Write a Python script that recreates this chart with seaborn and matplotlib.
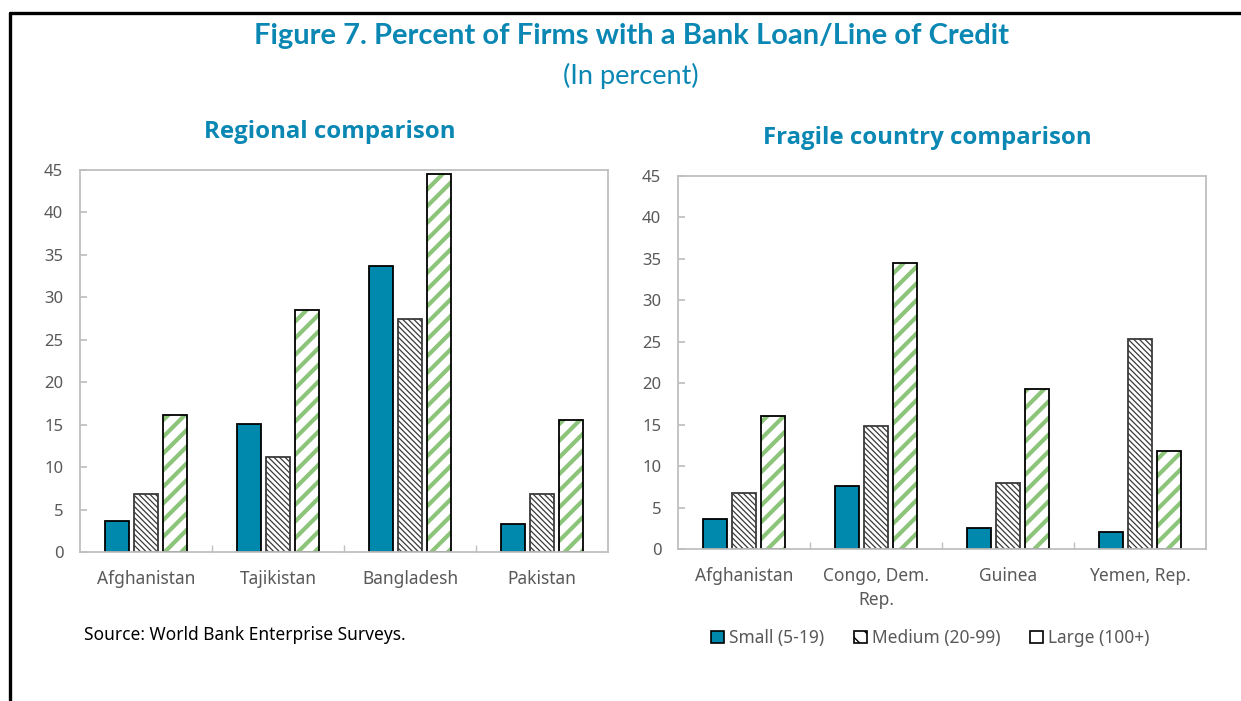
import matplotlib
matplotlib.use("Agg")
import matplotlib.pyplot as plt
from matplotlib.patches import Rectangle, Patch
from matplotlib.lines import Line2D
import seaborn as sns
import pandas as pd

# Data (percent of firms with a bank loan / line of credit)
sizes = ["Small (5-19)", "Medium (20-99)", "Large (100+)"]

regional_countries = ["Afghanistan", "Tajikistan", "Bangladesh", "Pakistan"]
regional_small = [3.6, 15.1, 33.7, 3.3]
regional_medium = [6.8, 11.2, 27.4, 6.8]
regional_large = [16.1, 28.5, 44.5, 15.5]

fragile_countries = ["Afghanistan", "Congo, Dem.\nRep.", "Guinea", "Yemen, Rep."]
fragile_small = [3.6, 7.6, 2.5, 2.0]
fragile_medium = [6.8, 14.8, 8.0, 25.3]
fragile_large = [16.1, 34.5, 19.3, 11.8]

yticks = [0, 5, 10, 15, 20, 25, 30, 35, 40, 45]

TEAL = "#0a87b3"
SMALL_C = "#0088ad"
HATCH_GREY = "#3a3a3a"
GREEN = "#8cc47a"
GRID_GREY = "#bfbfbf"
TEXT_GREY = "#595959"
MEDIUM_HATCH = "\\\\\\\\\\\\"
LARGE_HATCH = "//"

sns.set_theme(style="white")
plt.rcParams["font.family"] = ["Noto Sans", "DejaVu Sans"]
plt.rcParams["hatch.linewidth"] = 1.0


def to_frame(countries, small, medium, large):
    rows = []
    for series, vals in zip(sizes, [small, medium, large]):
        for c, v in zip(countries, vals):
            rows.append({"country": c, "size": series, "value": v})
    return pd.DataFrame(rows)


def style_bars(ax):
    small_c, medium_c, large_c = ax.containers[:3]
    for p in small_c:
        p.set_facecolor(SMALL_C)
        p.set_edgecolor("black")
        p.set_linewidth(1.3)
    for p in medium_c:
        p.set_facecolor("white")
        p.set_edgecolor(HATCH_GREY)
        p.set_hatch(MEDIUM_HATCH)
        p.set_linewidth(1.3)
        if hasattr(p, "set_hatch_linewidth"):
            p.set_hatch_linewidth(0.9)
    for p in large_c:
        p.set_facecolor("white")
        p.set_edgecolor(GREEN)
        p.set_hatch(LARGE_HATCH)
        p.set_linewidth(0)
        if hasattr(p, "set_hatch_linewidth"):
            p.set_hatch_linewidth(3.0)
        # black outline on top of the green striping
        ax.add_patch(Rectangle((p.get_x(), p.get_y()), p.get_width(), p.get_height(),
                               fill=False, edgecolor="black", linewidth=1.3, zorder=p.get_zorder() + 0.1))


def draw_panel(ax, df, order, title, title_x, title_y):
    sns.barplot(data=df, x="country", y="value", hue="size", order=order, hue_order=sizes,
                palette=[SMALL_C, "white", "white"], width=0.66, gap=0.2,
                legend=False, ax=ax, saturation=1)
    style_bars(ax)
    ax.set_ylim(0, 45)
    ax.set_xlim(-0.5, len(order) - 0.5)
    ax.set_yticks(yticks)
    ax.set_xlabel("")
    ax.set_ylabel("")
    for s in ax.spines.values():
        s.set_color(GRID_GREY)
        s.set_linewidth(1.3)
        s.set_visible(True)
    ax.tick_params(axis="y", direction="in", length=5, color=GRID_GREY, labelcolor=TEXT_GREY,
                   labelsize=12, pad=12, left=True)
    ax.tick_params(axis="x", which="major", length=0, labelcolor=TEXT_GREY, labelsize=12.5, pad=13)
    for lbl in ax.get_xticklabels():
        lbl.set_linespacing(1.4)
    ax.set_xticks([i + 0.5 for i in range(len(order) - 1)], minor=True)
    ax.tick_params(axis="x", which="minor", direction="in", length=5, color=GRID_GREY, bottom=True)
    fig.text(title_x, title_y, title, ha="center", va="center", fontsize=17.3,
             fontweight="bold", color=TEAL, family=["Open Sans", "DejaVu Sans"])


fig = plt.figure(figsize=(12.41, 7.01), dpi=100)

ax1 = fig.add_axes([80 / 1241, 1 - 552 / 701, 528 / 1241, 382 / 701])
ax2 = fig.add_axes([678 / 1241, 1 - 549 / 701, 528 / 1241, 373 / 701])

draw_panel(ax1, to_frame(regional_countries, regional_small, regional_medium, regional_large),
           regional_countries, "Regional comparison", 330 / 1241, 1 - 132 / 701)
draw_panel(ax2, to_frame(fragile_countries, fragile_small, fragile_medium, fragile_large),
           fragile_countries, "Fragile country comparison", 927 / 1241, 1 - 138 / 701)

# Headline and unit line
fig.text(631 / 1241, 1 - 36 / 701, "Figure 7. Percent of Firms with a Bank Loan/Line of Credit",
         ha="center", va="center", fontsize=21, fontweight="bold", color=TEAL,
         family=["Lato", "DejaVu Sans"])
fig.text(631 / 1241, 1 - 76 / 701, "(In percent)", ha="center", va="center",
         fontsize=19.5, color=TEAL, family=["Lato", "DejaVu Sans"])

fig.text(84 / 1241, 1 - 635 / 701, "Source: World Bank Enterprise Surveys.",
         ha="left", va="center", fontsize=12.5, color="black")

# Legend for size classes
handles = [
    Patch(facecolor=SMALL_C, edgecolor="black", linewidth=1.2, label=sizes[0]),
    Patch(facecolor="white", edgecolor="black", hatch="\\\\", linewidth=1.2, label=sizes[1]),
    Patch(facecolor="white", edgecolor="black", linewidth=1.2, label=sizes[2]),
]
leg = fig.legend(handles=handles, loc="center", bbox_to_anchor=(930 / 1241, 1 - 638 / 701),
                 ncol=3, frameon=False, fontsize=12.5, handlelength=0.75, handleheight=0.75,
                 handletextpad=0.3, columnspacing=1.7)
for t in leg.get_texts():
    t.set_color(TEXT_GREY)

# Outer frame lines (top and left)
fig.add_artist(Line2D([10 / 1241, 1.0], [1 - 13 / 701, 1 - 13 / 701], color="black",
                      linewidth=2.4, transform=fig.transFigure))
fig.add_artist(Line2D([10 / 1241, 10 / 1241], [1 - 13 / 701, 0.0], color="black",
                      linewidth=2.4, transform=fig.transFigure))

fig.savefig("out.png", dpi=100, facecolor="white")
